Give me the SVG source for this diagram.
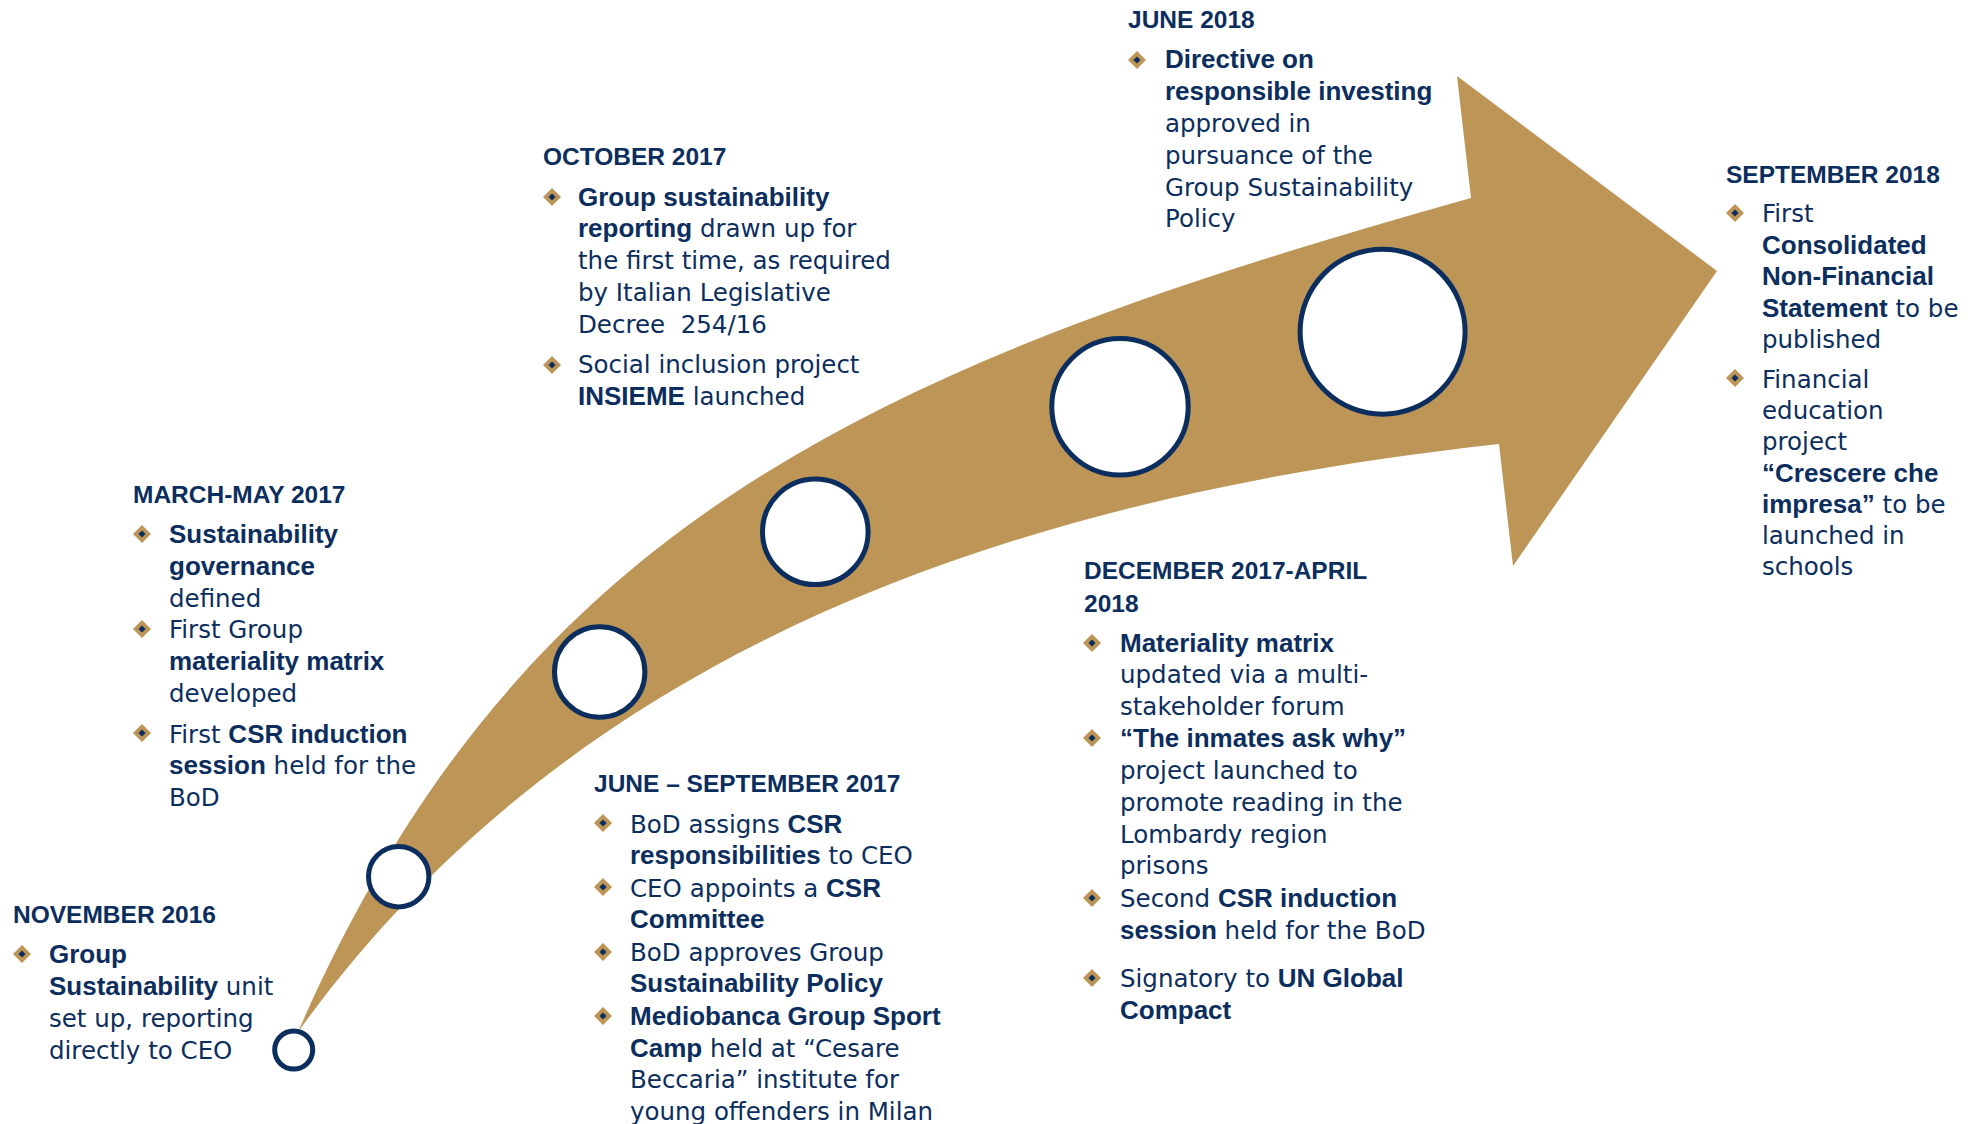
<svg xmlns="http://www.w3.org/2000/svg" xmlns:xlink="http://www.w3.org/1999/xlink" width="1981" height="1124" viewBox="0 0 1981 1124">
  <style>
    .h { font-family: "Liberation Sans", Arial, sans-serif; font-weight: bold; font-size: 24.5px; fill: #0B2E5E; }
    .t { font-family: "DejaVu Sans", Verdana, sans-serif; font-size: 24.5px; fill: #0B2E5E; }
    .b { font-family: "Liberation Sans", Arial, sans-serif; font-weight: bold; font-size: 26px; }
    .arrow { fill: #BD9657; }
    .dot { fill: #FFFFFF; stroke: #0B2E5E; stroke-width: 5; }
  </style>
  <defs>
    <g id="bullet">
      <polygon points="0,-9 9,0 0,9 -9,0" fill="#BD9657"/>
      <polygon points="0,-3.6 3.6,0 0,3.6 -3.6,0" fill="#0B2E5E"/>
    </g>
  </defs>

  <rect width="1981" height="1124" fill="#FFFFFF"/>

  <!-- curved timeline arrow and its milestone markers -->
  <g id="connectors">
    <path class="arrow" d="M298,1032 C520,524 871,366 1471,198 L1457,76 L1717,271 L1513,566 L1499,444 C999,499 570,654 298,1032 Z"/>
  </g>
  <g id="markers">
    <circle id="marker-1" class="dot" cx="293.7" cy="1050" r="19"/>
    <circle id="marker-2" class="dot" cx="398.7" cy="876.7" r="30.2"/>
    <circle id="marker-3" class="dot" cx="599.7" cy="672" r="45.2"/>
    <circle id="marker-4" class="dot" cx="815.3" cy="531.8" r="52.8"/>
    <circle id="marker-5" class="dot" cx="1120" cy="406.7" r="68.2"/>
    <circle id="marker-6" class="dot" cx="1382.6" cy="331.7" r="82.5"/>
  </g>

  <!-- NOVEMBER 2016 -->
  <g id="nov-2016">
    <text class="h" x="13" y="923">NOVEMBER 2016</text>
    <use xlink:href="#bullet" x="22" y="954"/>
    <text class="t" x="49" y="963"><tspan class="b">Group</tspan></text>
    <text class="t" x="49" y="995"><tspan class="b">Sustainability</tspan> unit</text>
    <text class="t" x="49" y="1027">set up, reporting</text>
    <text class="t" x="49" y="1059">directly to CEO</text>
  </g>

  <!-- MARCH-MAY 2017 -->
  <g id="mar-may-2017">
    <text class="h" x="133" y="503">MARCH-MAY 2017</text>
    <use xlink:href="#bullet" x="142" y="534"/>
    <use xlink:href="#bullet" x="142" y="629"/>
    <use xlink:href="#bullet" x="142" y="733"/>
    <text class="t" x="169" y="543"><tspan class="b">Sustainability</tspan></text>
    <text class="t" x="169" y="575"><tspan class="b">governance</tspan></text>
    <text class="t" x="169" y="607">defined</text>
    <text class="t" x="169" y="638">First Group</text>
    <text class="t" x="169" y="670"><tspan class="b">materiality matrix</tspan></text>
    <text class="t" x="169" y="702">developed</text>
    <text class="t" x="169" y="743">First <tspan class="b">CSR induction</tspan></text>
    <text class="t" x="169" y="774"><tspan class="b">session</tspan> held for the</text>
    <text class="t" x="169" y="806">BoD</text>
  </g>

  <!-- JUNE - SEPTEMBER 2017 -->
  <g id="jun-sep-2017">
    <text class="h" x="594" y="792">JUNE – SEPTEMBER 2017</text>
    <use xlink:href="#bullet" x="603" y="823"/>
    <use xlink:href="#bullet" x="603" y="887"/>
    <use xlink:href="#bullet" x="603" y="952"/>
    <use xlink:href="#bullet" x="603" y="1016"/>
    <text class="t" x="630" y="833">BoD assigns <tspan class="b">CSR</tspan></text>
    <text class="t" x="630" y="864"><tspan class="b">responsibilities</tspan> to CEO</text>
    <text class="t" x="630" y="897">CEO appoints a <tspan class="b">CSR</tspan></text>
    <text class="t" x="630" y="928"><tspan class="b">Committee</tspan></text>
    <text class="t" x="630" y="961">BoD approves Group</text>
    <text class="t" x="630" y="992"><tspan class="b">Sustainability Policy</tspan></text>
    <text class="t" x="630" y="1025"><tspan class="b">Mediobanca Group Sport</tspan></text>
    <text class="t" x="630" y="1057"><tspan class="b">Camp</tspan> held at “Cesare</text>
    <text class="t" x="630" y="1088">Beccaria” institute for</text>
    <text class="t" x="630" y="1120">young offenders in Milan</text>
  </g>

  <!-- OCTOBER 2017 -->
  <g id="oct-2017">
    <text class="h" x="543" y="165">OCTOBER 2017</text>
    <use xlink:href="#bullet" x="552" y="197"/>
    <use xlink:href="#bullet" x="552" y="365"/>
    <text class="t" x="578" y="206"><tspan class="b">Group sustainability</tspan></text>
    <text class="t" x="578" y="237"><tspan class="b">reporting</tspan> drawn up for</text>
    <text class="t" x="578" y="269">the first time, as required</text>
    <text class="t" x="578" y="301">by Italian Legislative</text>
    <text class="t" x="578" y="333">Decree &#160;254/16</text>
    <text class="t" x="578" y="373">Social inclusion project</text>
    <text class="t" x="578" y="405"><tspan class="b">INSIEME</tspan> launched</text>
  </g>

  <!-- DECEMBER 2017-APRIL 2018 -->
  <g id="dec-2017-apr-2018">
    <text class="h" x="1084" y="579">DECEMBER 2017-APRIL</text>
    <text class="h" x="1084" y="612">2018</text>
    <use xlink:href="#bullet" x="1092" y="643"/>
    <use xlink:href="#bullet" x="1092" y="738"/>
    <use xlink:href="#bullet" x="1092" y="898"/>
    <use xlink:href="#bullet" x="1092" y="978"/>
    <text class="t" x="1120" y="652"><tspan class="b">Materiality matrix</tspan></text>
    <text class="t" x="1120" y="683">updated via a multi-</text>
    <text class="t" x="1120" y="715">stakeholder forum</text>
    <text class="t" x="1120" y="747"><tspan class="b">“The inmates ask why”</tspan></text>
    <text class="t" x="1120" y="779">project launched to</text>
    <text class="t" x="1120" y="811">promote reading in the</text>
    <text class="t" x="1120" y="843">Lombardy region</text>
    <text class="t" x="1120" y="874">prisons</text>
    <text class="t" x="1120" y="907">Second <tspan class="b">CSR induction</tspan></text>
    <text class="t" x="1120" y="939"><tspan class="b">session</tspan> held for the BoD</text>
    <text class="t" x="1120" y="987">Signatory to <tspan class="b">UN Global</tspan></text>
    <text class="t" x="1120" y="1019"><tspan class="b">Compact</tspan></text>
  </g>

  <!-- JUNE 2018 -->
  <g id="jun-2018">
    <text class="h" x="1128" y="28">JUNE 2018</text>
    <use xlink:href="#bullet" x="1137" y="60"/>
    <text class="t" x="1165" y="68"><tspan class="b">Directive on</tspan></text>
    <text class="t" x="1165" y="100"><tspan class="b">responsible investing</tspan></text>
    <text class="t" x="1165" y="132">approved in</text>
    <text class="t" x="1165" y="164">pursuance of the</text>
    <text class="t" x="1165" y="196">Group Sustainability</text>
    <text class="t" x="1165" y="227">Policy</text>
  </g>

  <!-- SEPTEMBER 2018 -->
  <g id="sep-2018">
    <text class="h" x="1726" y="183">SEPTEMBER 2018</text>
    <use xlink:href="#bullet" x="1735" y="213"/>
    <use xlink:href="#bullet" x="1735" y="378"/>
    <text class="t" x="1762" y="222">First</text>
    <text class="t" x="1762" y="254"><tspan class="b">Consolidated</tspan></text>
    <text class="t" x="1762" y="285"><tspan class="b">Non-Financial</tspan></text>
    <text class="t" x="1762" y="317"><tspan class="b">Statement</tspan> to be</text>
    <text class="t" x="1762" y="348">published</text>
    <text class="t" x="1762" y="388">Financial</text>
    <text class="t" x="1762" y="419">education</text>
    <text class="t" x="1762" y="450">project</text>
    <text class="t" x="1762" y="482"><tspan class="b">“Crescere che</tspan></text>
    <text class="t" x="1762" y="513"><tspan class="b">impresa”</tspan> to be</text>
    <text class="t" x="1762" y="544">launched in</text>
    <text class="t" x="1762" y="575">schools</text>
  </g>
</svg>
